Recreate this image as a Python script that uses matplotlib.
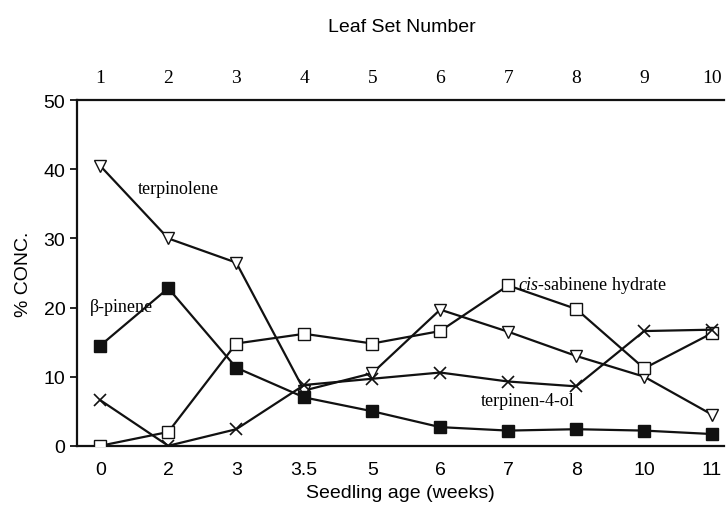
import numpy as np
import matplotlib.pyplot as plt

weeks = ["0", "2", "3", "3.5", "5", "6", "7", "8", "10", "11"]
leaf_sets = ["1", "2", "3", "4", "5", "6", "7", "8", "9", "10"]

terpinolene = [40.5, 30.0, 26.5, 8.0, 10.5, 19.7, 16.5, 13.0, 10.0, 4.5]
b_pinene = [14.5, 22.8, 11.3, 7.0, 5.0, 2.7, 2.2, 2.4, 2.2, 1.7]
sabinene_hydrate = [0.0, 2.0, 14.8, 16.2, 14.8, 16.6, 23.2, 19.8, 11.2, 16.3]
terpinen4ol = [6.6, 0.0, 2.4, 8.8, 9.7, 10.6, 9.3, 8.6, 16.6, 16.8]

serif = "Liberation Serif"
sans = "Liberation Sans"
plt.rcParams["mathtext.fontset"] = "custom"
plt.rcParams["mathtext.rm"] = serif
plt.rcParams["mathtext.it"] = serif + ":italic"

fig = plt.figure(figsize=(7.28, 5.06), dpi=100)
ax = fig.add_axes([0.106, 0.117, 0.889, 0.683])
x = np.arange(len(weeks))

lw = 1.6
ax.plot(x, terpinolene, color="#111111", lw=lw, marker="v", ms=9,
        mfc="white", mec="#111111", mew=1.0, zorder=3)
ax.plot(x, sabinene_hydrate, color="#111111", lw=lw, marker="s", ms=8,
        mfc="white", mec="#111111", mew=1.0, zorder=3)
ax.plot(x, terpinen4ol, color="#111111", lw=lw, marker="x", ms=8,
        mew=1.2, zorder=3)
ax.plot(x, b_pinene, color="#111111", lw=lw, marker="s", ms=8,
        mfc="#111111", mec="#111111", zorder=4)

ax.set_xlim(-0.34, 9.18)
ax.set_ylim(0, 50)
ax.set_yticks([0, 10, 20, 30, 40, 50])
ax.set_xticks(x)
ax.set_xticklabels(weeks, fontsize=14, family=sans)
ax.tick_params(axis="x", length=0, pad=11)
ax.tick_params(axis="y", length=5, width=1.2, labelsize=14, direction="out")
for lab in ax.get_yticklabels():
    lab.set_family(sans)

ax.spines["right"].set_visible(False)
for s in ["left", "bottom", "top"]:
    ax.spines[s].set_linewidth(1.6)
    ax.spines[s].set_color("#111111")

ax.set_xlabel("Seedling age (weeks)", fontsize=14, family=sans, labelpad=4)
ax.set_ylabel("% CONC.", fontsize=14, family=sans, labelpad=8)

top = ax.secondary_xaxis("top")
top.set_xticks(x)
top.set_xticklabels(leaf_sets, fontsize=14, family=serif)
top.tick_params(length=0, pad=10)
top.spines["top"].set_visible(False)

fig.text(0.552, 0.945, "Leaf Set Number", ha="center", va="center",
         fontsize=14, family=sans)

ax.text(0.55, 37.2, "terpinolene", fontsize=13, family=serif, va="center")
ax.text(-0.15, 20.2, "β-pinene", fontsize=13, family=serif, va="center")
ax.text(6.15, 23.3, "$\\it{cis}$-sabinene hydrate", fontsize=13,
        family=serif, va="center")
ax.text(5.6, 6.5, "terpinen-4-ol", fontsize=13, family=serif, va="center")

fig.savefig("out.png", dpi=100)
